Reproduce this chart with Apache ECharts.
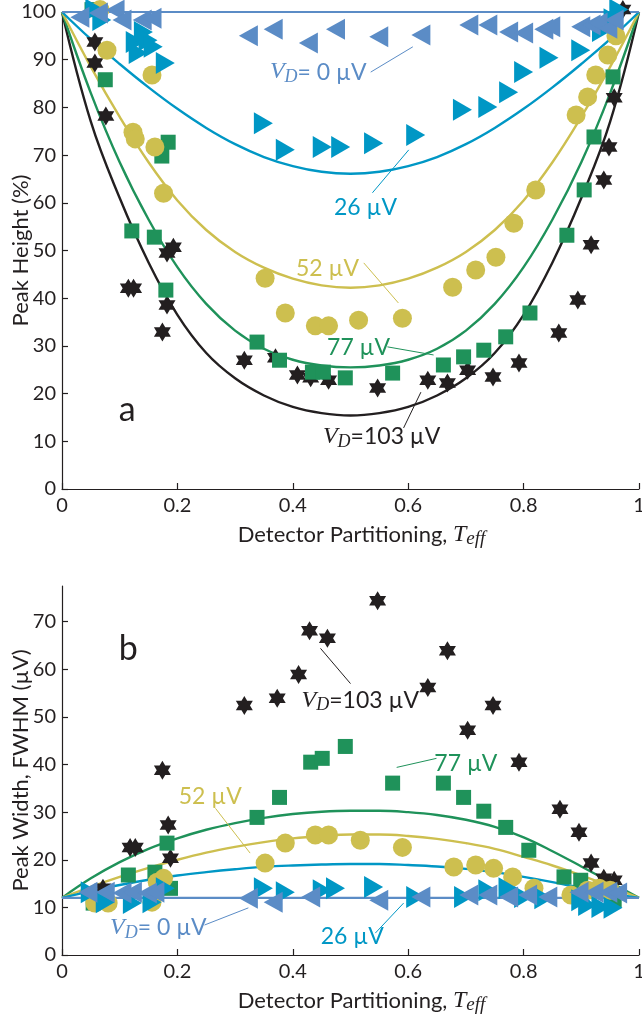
<!DOCTYPE html>
<html>
<head>
<meta charset="utf-8">
<script src="https://cdn.jsdelivr.net/npm/echarts@6/dist/echarts.min.js"></script>
<style>
  html, body { margin: 0; padding: 0; background: #fff; }
  #chart { width: 642px; height: 1022px; }
</style>
</head>
<body>
<div id="chart"></div>
<script>
// ---- data ----
var xTicks = [0, 0.2, 0.4, 0.6, 0.8, 1];
var yTicksA = [0, 10, 20, 30, 40, 50, 60, 70, 80, 90, 100];
var yTicksB = [0, 10, 20, 30, 40, 50, 60, 70];

// panel a: peak height (%)
var a0x = [0.031, 0.063, 0.092, 0.104, 0.139, 0.156, 0.323, 0.366, 0.427, 0.474, 0.549, 0.622, 0.705, 0.738, 0.774, 0.800, 0.835, 0.847, 0.899, 0.917, 0.929, 0.946, 0.957];
var a0y = [98.9, 99.8, 100.4, 98.3, 98.3, 98.7, 95.0, 96.4, 93.5, 96.4, 94.8, 95.2, 97.3, 97.3, 95.8, 95.6, 96.4, 96.9, 96.9, 97.3, 97.7, 96.6, 98.3];
var a26x = [0.057, 0.069, 0.127, 0.132, 0.141, 0.149, 0.158, 0.179, 0.349, 0.387, 0.451, 0.483, 0.540, 0.613, 0.694, 0.738, 0.774, 0.800, 0.844, 0.899, 0.935, 0.955, 0.965];
var a26y = [100.5, 98.3, 93.7, 91.4, 95.8, 94.1, 92.7, 89.3, 76.7, 71.1, 71.7, 71.7, 72.5, 74.2, 79.5, 80.1, 83.2, 87.4, 90.4, 92.0, 96.0, 98.5, 100.5];
var a52x = [0.066, 0.078, 0.123, 0.127, 0.156, 0.161, 0.176, 0.352, 0.387, 0.439, 0.462, 0.514, 0.590, 0.677, 0.717, 0.752, 0.783, 0.821, 0.891, 0.911, 0.925, 0.946, 0.960];
var a52y = [100.5, 92.0, 74.8, 73.4, 86.8, 71.7, 62.0, 44.2, 36.9, 34.2, 34.2, 35.4, 35.8, 42.3, 45.9, 48.6, 55.7, 62.7, 78.4, 82.2, 86.8, 91.0, 95.0];
var a77x = [0.052, 0.075, 0.121, 0.160, 0.173, 0.180, 0.184, 0.338, 0.377, 0.434, 0.453, 0.491, 0.573, 0.661, 0.696, 0.731, 0.769, 0.811, 0.875, 0.905, 0.922, 0.955];
var a77y = [100.5, 85.8, 54.1, 52.8, 69.8, 41.7, 72.7, 30.8, 27.0, 24.5, 24.5, 23.3, 24.3, 26.0, 27.7, 29.1, 31.9, 36.9, 53.2, 62.7, 73.8, 86.4];
var a103x = [0.057, 0.057, 0.076, 0.115, 0.124, 0.174, 0.182, 0.182, 0.193, 0.316, 0.370, 0.408, 0.431, 0.462, 0.547, 0.634, 0.668, 0.703, 0.747, 0.792, 0.861, 0.894, 0.917, 0.939, 0.948, 0.957, 0.972];
var a103y = [93.7, 89.3, 78.2, 42.1, 42.1, 32.9, 38.6, 49.5, 50.7, 27.0, 27.5, 23.9, 23.3, 22.8, 21.2, 22.8, 22.2, 24.9, 23.5, 26.4, 32.7, 39.6, 51.2, 64.8, 71.7, 82.0, 100.5];

// fitted curves, sampled along T
var fitT = [0, 0.05, 0.1, 0.15, 0.2, 0.25, 0.3, 0.35, 0.4, 0.45, 0.5, 0.55, 0.6, 0.65, 0.7, 0.75, 0.8, 0.85, 0.9, 0.95, 1];
var fitA0 = [100, 100, 100, 100, 100, 100, 100, 100, 100, 100, 100, 100, 100, 100, 100, 100, 100, 100, 100, 100, 100];
var fitA26 = [100, 94.3, 89.1, 84.2, 79.7, 75.7, 72.3, 69.6, 67.7, 66.5, 66.1, 66.5, 67.7, 69.6, 72.3, 75.7, 79.7, 84.2, 89.1, 94.3, 100];
var fitA52 = [100, 88.5, 78, 68.5, 60.5, 54.3, 49.7, 46.4, 44.1, 42.7, 42.2, 42.7, 44.1, 46.4, 49.7, 54.3, 60.5, 68.5, 78, 88.5, 100];
var fitA77 = [100, 83, 68.5, 56.5, 46.5, 38.8, 33.2, 29.4, 27.1, 25.9, 25.5, 25.9, 27.1, 29.4, 33.2, 38.8, 46.5, 56.5, 68.5, 83, 100];
var fitA103 = [100, 77, 61, 47.5, 36.5, 28.5, 23.2, 19.6, 17.2, 15.9, 15.4, 15.9, 17.2, 19.6, 23.2, 28.5, 36.5, 47.5, 61, 77, 100];

// panel b: peak width, FWHM (uV)
var b0x = [0.045, 0.075, 0.104, 0.122, 0.148, 0.161, 0.323, 0.366, 0.431, 0.549, 0.622, 0.705, 0.738, 0.774, 0.807, 0.842, 0.896, 0.922, 0.946, 0.963];
var b0y = [13.2, 13.2, 13.0, 13.2, 13.0, 13.2, 11.9, 11.1, 12.2, 11.5, 12.2, 12.6, 12.6, 12.2, 12.6, 12.2, 13.2, 13.2, 13.2, 13.0];
var b26x = [0.049, 0.075, 0.122, 0.156, 0.179, 0.349, 0.387, 0.451, 0.474, 0.540, 0.613, 0.696, 0.738, 0.773, 0.800, 0.835, 0.899, 0.911, 0.934, 0.955];
var b26y = [13.2, 11.1, 10.9, 11.1, 14.0, 14.0, 13.2, 13.6, 14.0, 14.3, 12.2, 12.2, 13.6, 14.0, 12.2, 11.9, 11.5, 10.5, 10.1, 9.9];
var b52x = [0.057, 0.080, 0.156, 0.165, 0.176, 0.352, 0.387, 0.439, 0.462, 0.517, 0.590, 0.679, 0.717, 0.748, 0.781, 0.818, 0.882, 0.911, 0.931, 0.950];
var b52y = [10.9, 10.9, 11.1, 15.3, 16.1, 19.3, 23.5, 25.2, 25.2, 24.1, 22.6, 18.5, 18.9, 18.2, 16.4, 14.0, 12.6, 13.6, 14.0, 13.6];
var b77x = [0.054, 0.115, 0.161, 0.182, 0.188, 0.338, 0.377, 0.431, 0.451, 0.491, 0.573, 0.661, 0.696, 0.731, 0.769, 0.809, 0.870, 0.899, 0.957];
var b77y = [10.9, 16.8, 17.4, 23.5, 14.0, 28.9, 33.1, 40.5, 41.3, 43.8, 36.1, 36.1, 33.1, 30.2, 26.8, 22.0, 16.4, 15.7, 11.5];
var b103x = [0.071, 0.118, 0.127, 0.174, 0.184, 0.188, 0.316, 0.373, 0.410, 0.429, 0.460, 0.547, 0.634, 0.668, 0.703, 0.747, 0.792, 0.863, 0.896, 0.917, 0.939, 0.957];
var b103y = [14.0, 22.6, 22.6, 38.8, 27.3, 20.3, 52.4, 53.9, 58.9, 68.1, 66.5, 74.4, 56.2, 63.9, 47.2, 52.4, 40.5, 30.6, 25.8, 19.3, 16.1, 15.7];

var fitB0 = [12, 12, 12, 12, 12, 12, 12, 12, 12, 12, 12, 12, 12, 12, 12, 12, 12, 12, 12, 12, 12];
var fitB26 = [12, 13.4, 14.7, 15.8, 16.7, 17.4, 18.0, 18.5, 18.8, 19.0, 19.1, 19.1, 18.9, 18.6, 18.1, 17.4, 16.4, 15.3, 14.1, 13.0, 12];
var fitB52 = [12, 14.3, 16.4, 18.3, 20.0, 21.5, 22.7, 23.7, 24.5, 25.0, 25.3, 25.3, 25.0, 24.4, 23.5, 22.3, 20.6, 18.8, 16.7, 14.4, 12];
var fitB77 = [12, 16.1, 19.5, 22.3, 24.5, 26.3, 27.7, 28.8, 29.6, 30.1, 30.3, 30.3, 30.0, 29.4, 28.4, 26.9, 24.7, 21.8, 18.6, 15.3, 12];

// ---- styling ----
var INK = '#231f20';
var C0 = '#5b8cc6', C26 = '#0097c5', C52 = '#cdbf4f', C77 = '#1f925a', C103 = '#231f20';
var SANS = 'Lato, "Open Sans", sans-serif';
var SERIF = '"Liberation Serif", "DejaVu Serif", serif';
var STAR = 'path://M0,-1L0.289,-0.5L0.866,-0.5L0.577,0L0.866,0.5L0.289,0.5L0,1L-0.289,0.5L-0.866,0.5L-0.577,0L-0.866,-0.5L-0.289,-0.5Z';

function pts(xs, ys) { return xs.map(function (x, i) { return [x, ys[i]]; }); }

function xAxis(g) {
  return {
    type: 'value', gridIndex: g, min: 0, max: 1, interval: 0.2,
    name: 'Detector Partitioning, {t|T}{s|eff}',
    nameLocation: 'middle', nameGap: 33, nameMoveOverlap: false,
    nameTextStyle: {
      fontFamily: SANS, fontSize: 22, color: INK, lineHeight: 26, padding: [0, 0, 0, 22],
      rich: {
        t: { fontFamily: SERIF, fontStyle: 'italic', fontSize: 24, color: INK, lineHeight: 26 },
        s: { fontFamily: SERIF, fontStyle: 'italic', fontSize: 19, color: INK, lineHeight: 8, verticalAlign: 'bottom' }
      }
    },
    axisLine: { lineStyle: { color: INK, width: 1.2 } },
    axisTick: { inside: true, length: 6, lineStyle: { color: INK, width: 1.2 }, customValues: xTicks },
    axisLabel: { fontFamily: SANS, fontSize: 20, color: INK, margin: 7, customValues: xTicks },
    splitLine: { show: false }
  };
}
function yAxis(g, max, ticks, name) {
  return {
    type: 'value', gridIndex: g, min: 0, max: max, interval: 10,
    name: name, nameLocation: 'middle', nameGap: 30, nameMoveOverlap: false,
    nameTextStyle: { fontFamily: SANS, fontSize: 22, color: INK },
    axisLine: { show: true, lineStyle: { color: INK, width: 1.2 } },
    axisTick: { show: true, inside: true, length: 6, lineStyle: { color: INK, width: 1.2 }, customValues: ticks },
    axisLabel: { fontFamily: SANS, fontSize: 20, color: INK, margin: 6, customValues: ticks },
    splitLine: { show: false }
  };
}
function fit(g, ys, color, w) {
  return {
    type: 'line', xAxisIndex: g, yAxisIndex: g, data: pts(fitT, ys),
    smooth: 0.4, showSymbol: false, silent: true, z: 2,
    lineStyle: { color: color, width: w || 2.4 }
  };
}
function dots(g, xs, ys, color, symbol, size, rot, z) {
  return {
    type: 'scatter', xAxisIndex: g, yAxisIndex: g, data: pts(xs, ys),
    symbol: symbol, symbolSize: size, symbolRotate: rot || 0, clip: false, z: z,
    itemStyle: { color: color, opacity: 1 }
  };
}

var series = [
  fit(0, fitA103, C103), fit(0, fitA77, C77), fit(0, fitA52, C52), fit(0, fitA26, C26), fit(0, fitA0, C0, 2),
  dots(0, a103x, a103y, C103, STAR, [17, 19], 0, 3),
  dots(0, a77x, a77y, C77, 'rect', 15, 0, 4),
  dots(0, a52x, a52y, C52, 'circle', 19, 0, 5),
  dots(0, a26x, a26y, C26, 'triangle', [22, 19], -90, 6),
  dots(0, a0x, a0y, C0, 'triangle', [21, 19], 90, 7),

  fit(1, fitB77, C77), fit(1, fitB52, C52), fit(1, fitB26, C26), fit(1, fitB0, C0, 2.4),
  dots(1, b103x, b103y, C103, STAR, [17, 19], 0, 3),
  dots(1, b77x, b77y, C77, 'rect', 15, 0, 4),
  dots(1, b52x, b52y, C52, 'circle', 19, 0, 5),
  dots(1, b26x, b26y, C26, 'triangle', [22, 19], -90, 6),
  dots(1, b0x, b0y, C0, 'triangle', [21, 19], 90, 7)
];

var chart = echarts.init(document.getElementById('chart'));
chart.setOption({
  animation: false,
  backgroundColor: '#fff',
  grid: [
    { left: 62, right: 3, top: 12, height: 477, containLabel: false, outerBoundsMode: 'none' },
    { left: 62, right: 3, top: 586, height: 369, containLabel: false, outerBoundsMode: 'none' }
  ],
  xAxis: [xAxis(0), xAxis(1)],
  yAxis: [
    yAxis(0, 100, yTicksA, 'Peak Height (%)'),
    yAxis(1, 77.5, yTicksB, 'Peak Width, FWHM (\u00b5V)')
  ],
  series: series
});

// ---- annotations (positions in data units) ----
var vdRich = {
  v: { fontFamily: SERIF, fontStyle: 'italic', fontSize: 24, lineHeight: 28 },
  d: { fontFamily: SERIF, fontStyle: 'italic', fontSize: 18, lineHeight: 8, verticalAlign: 'bottom' },
  n: { fontFamily: SANS, fontSize: 23, lineHeight: 28 }
};
var notes = [
  { g: 0, text: '{v|V}{d|D}{n|= 0 \u00b5V}', color: C0, at: [0.444, 87.4], from: [0.535, 87.4], to: [0.608, 92.7] },
  { g: 0, text: '{n|26 \u00b5V}', color: C26, at: [0.526, 59.1], from: [0.538, 62.1], to: [0.601, 71.1] },
  { g: 0, text: '{n|52 \u00b5V}', color: C52, at: [0.460, 46.3], from: [0.523, 47.4], to: [0.583, 39.0] },
  { g: 0, text: '{n|77 \u00b5V}', color: C77, at: [0.514, 29.6], from: [0.564, 29.8], to: [0.644, 28.1] },
  { g: 0, text: '{v|V}{d|D}{n|=103 \u00b5V}', color: C103, at: [0.554, 10.9], from: [0.592, 12.8], to: [0.622, 20.3] },
  { g: 0, text: '{b|a}', color: INK, at: [0.113, 16.6] },
  { g: 1, text: '{b|b}', color: INK, at: [0.115, 64.2] },
  { g: 1, text: '{v|V}{d|D}{n|=103 \u00b5V}', color: C103, at: [0.517, 53.5], from: [0.500, 57.0], to: [0.448, 64.4] },
  { g: 1, text: '{n|77 \u00b5V}', color: C77, at: [0.700, 40.3], from: [0.580, 39.4], to: [0.649, 41.3] },
  { g: 1, text: '{n|52 \u00b5V}', color: C52, at: [0.257, 33.3], from: [0.266, 30.8], to: [0.326, 21.4] },
  { g: 1, text: '{v|V}{d|D}{n|= 0 \u00b5V}', color: C0, at: [0.167, 5.7], from: [0.247, 6.3], to: [0.323, 9.9] },
  { g: 1, text: '{n|26 \u00b5V}', color: C26, at: [0.503, 3.8], from: [0.543, 4.6], to: [0.592, 10.9] }
];

function px(g, p) { return chart.convertToPixel({ xAxisIndex: g, yAxisIndex: g }, p); }

var graphics = [];
notes.forEach(function (n) {
  var c = px(n.g, n.at);
  var rich = {
    v: Object.assign({ fill: n.color }, vdRich.v),
    d: Object.assign({ fill: n.color }, vdRich.d),
    n: Object.assign({ fill: n.color }, vdRich.n),
    b: { fill: n.color, fontFamily: SANS, fontSize: 34 }
  };
  graphics.push({
    type: 'text', x: c[0], y: c[1], z: 20,
    style: { text: n.text, rich: rich, fill: n.color, align: 'center', verticalAlign: 'middle' }
  });
  if (n.from) {
    var a = px(n.g, n.from), b = px(n.g, n.to);
    graphics.push({
      type: 'line', z: 20,
      shape: { x1: a[0], y1: a[1], x2: b[0], y2: b[1] },
      style: { stroke: n.color, lineWidth: 1 }
    });
  }
});
chart.setOption({ graphic: graphics });
</script>
</body>
</html>
